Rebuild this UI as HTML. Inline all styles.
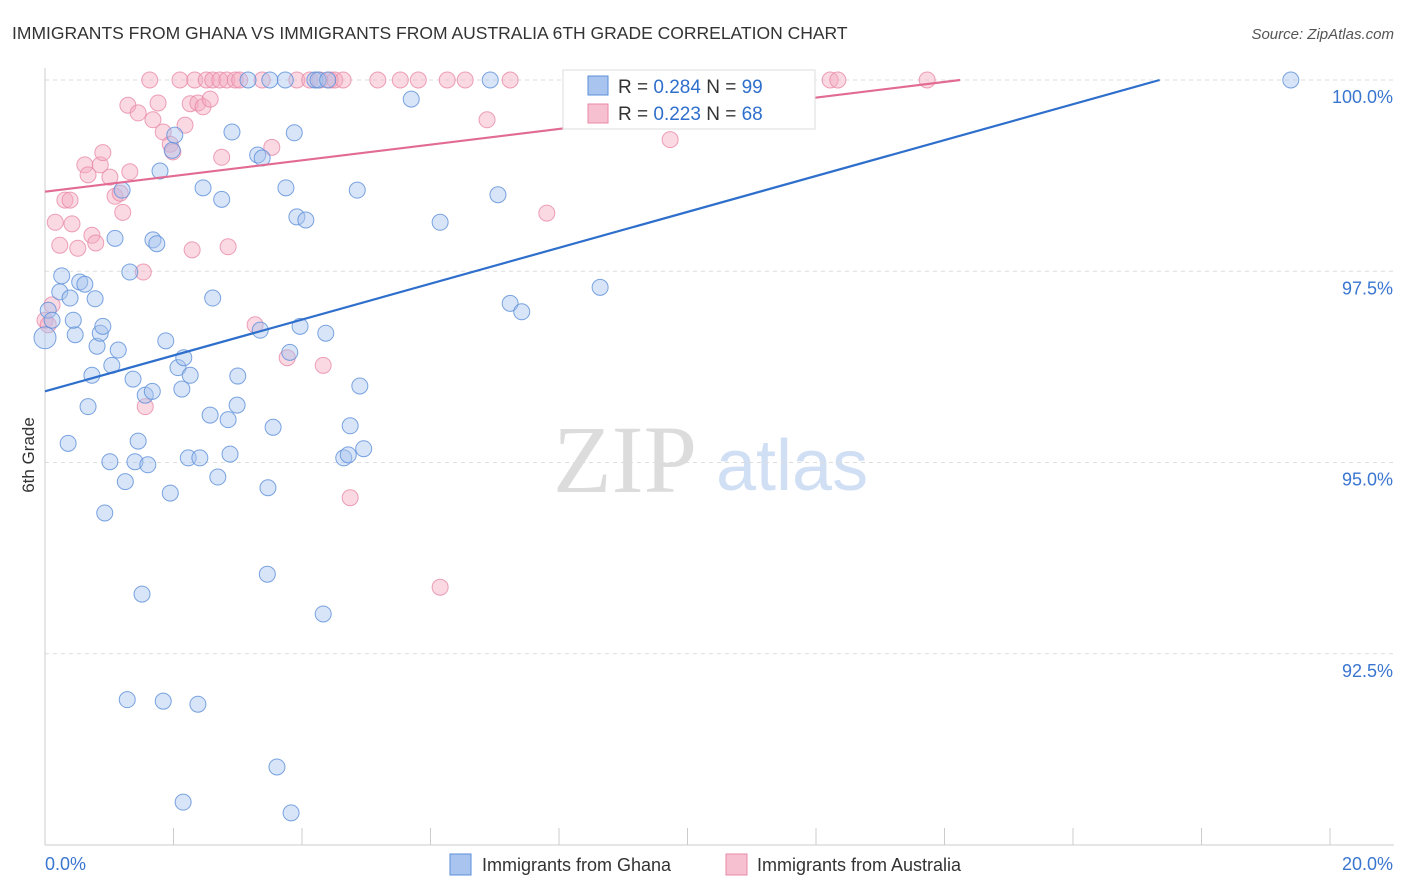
<!DOCTYPE html>
<html><head><meta charset="utf-8"><style>
body{margin:0;background:#fff;font-family:"Liberation Sans",sans-serif;}
svg{display:block}
</style></head><body>
<svg id="chart" width="1406" height="892" viewBox="0 0 1406 892" xmlns="http://www.w3.org/2000/svg" font-family="Liberation Sans, sans-serif">
<text x="12" y="39" font-size="17.5" fill="#333">IMMIGRANTS FROM GHANA VS IMMIGRANTS FROM AUSTRALIA 6TH GRADE CORRELATION CHART</text>
<text x="1394" y="39" font-size="15" fill="#555" font-style="italic" text-anchor="end">Source: ZipAtlas.com</text>
<g>
<text x="553" y="492" font-size="96" fill="#d4d4d4" font-family="Liberation Serif, serif" opacity="0.8">ZIP</text>
<text x="716" y="490" font-size="72" fill="#c6d8f2" opacity="0.8">atlas</text>
</g>
<g id="grid"></g>
<g id="axes"></g>
<g id="pts"></g>
<g id="trends"></g>
<text transform="translate(34,455) rotate(-90)" font-size="17" fill="#333" text-anchor="middle">6th Grade</text>
<g>
<rect x="563" y="70" width="252" height="59" fill="#fff" stroke="#ddd"/>
<rect x="588" y="76" width="20" height="19" fill="#a9c4ee" stroke="#5b8fd9"/>
<text x="618" y="93" font-size="19" fill="#333">R = <tspan fill="#2f6fcc">0.284</tspan>   N = <tspan fill="#2f6fcc">99</tspan></text>
<rect x="588" y="104" width="20" height="19" fill="#f7c0d0" stroke="#e88aa7"/>
<text x="618" y="120" font-size="19" fill="#333">R = <tspan fill="#2f6fcc">0.223</tspan>   N = <tspan fill="#2f6fcc">68</tspan></text>
</g>
<g>
<rect x="450" y="854" width="21" height="21" fill="#a9c4ee" stroke="#5b8fd9"/>
<text x="482" y="871" font-size="18" fill="#333">Immigrants from Ghana</text>
<rect x="726" y="854" width="21" height="21" fill="#f7c0d0" stroke="#e88aa7"/>
<text x="757" y="871" font-size="18" fill="#333">Immigrants from Australia</text>
</g>
</svg>
<script>
const ghanaX=[0.00,0.05,0.11,0.23,0.26,0.39,0.36,0.47,0.44,0.54,0.62,0.67,0.73,0.78,0.81,0.86,0.90,0.93,1.01,1.04,1.09,1.14,1.20,1.25,1.28,1.32,1.37,1.45,1.40,1.51,1.56,1.60,1.67,1.68,1.74,1.79,1.84,1.88,1.95,1.98,2.02,2.07,2.13,2.16,2.15,2.23,2.26,2.38,2.41,2.46,2.57,2.61,2.69,2.75,2.85,2.88,2.91,2.99,3.00,3.16,3.31,3.38,3.46,3.47,3.50,3.55,3.61,3.74,3.75,3.81,3.83,3.88,3.92,3.97,4.06,4.20,4.25,4.33,4.37,4.40,4.65,4.72,4.75,4.86,4.90,4.96,5.70,6.15,6.93,7.05,7.24,7.42,8.23,8.64,9.18,19.39,3.35];
const ghanaY=[96.63,96.99,96.86,97.23,97.44,97.15,95.25,96.67,96.86,97.36,97.33,95.73,96.14,97.14,96.52,96.69,96.78,94.34,95.01,96.27,97.93,96.47,98.56,94.75,91.90,97.49,96.09,95.28,95.01,93.28,95.88,94.97,95.93,97.91,97.86,98.81,91.88,96.59,94.60,99.08,99.28,96.24,95.96,96.37,90.56,95.06,96.14,91.84,95.06,98.59,95.62,97.15,94.81,98.44,95.56,95.11,99.32,95.75,96.13,100,99.02,98.98,93.54,94.67,100,95.46,91.02,100,98.59,96.44,90.42,99.31,98.21,96.78,98.17,100,100,93.02,96.69,100,95.06,95.10,95.48,98.56,96.00,95.18,99.75,98.14,100,98.50,97.08,96.97,100,97.29,100,100,96.73];
const ausX=[0.00,0.05,0.11,0.16,0.23,0.31,0.39,0.42,0.51,0.62,0.67,0.73,0.79,0.86,0.90,1.01,1.09,1.17,1.21,1.29,1.32,1.45,1.53,1.56,1.63,1.68,1.76,1.84,1.95,1.99,2.10,2.18,2.26,2.33,2.38,2.46,2.51,2.57,2.61,2.72,2.75,2.83,2.85,2.96,3.03,3.27,3.38,3.53,3.77,3.92,4.12,4.28,4.33,4.44,4.51,4.64,4.75,5.18,5.53,5.81,6.15,6.26,6.54,6.88,7.24,7.81,9.73,12.22,12.34,13.73,2.29];
const ausY=[96.86,96.80,97.06,98.14,97.84,98.43,98.43,98.12,97.80,98.89,98.76,97.97,97.87,98.89,99.05,98.73,98.48,98.52,98.27,99.67,98.80,99.57,97.49,95.73,100,99.48,99.70,99.32,99.16,99.06,100,99.41,99.69,100,99.70,99.65,100,99.75,100,100,98.99,100,97.82,100,100,96.80,100,99.12,96.37,100,100,100,96.27,100,100,100,94.54,100,100,100,93.37,100,100,99.48,100,98.26,99.22,100,100,100,97.78];
const ghanaTrend=[95.93,0.2346];
const ausTrend=[98.54,0.1025];
const yTicks=[92.5,95.0,97.5,100.0];
const xTicks=[0,2,4,6,8,10,12,14,16,18,20];

const NS="http://www.w3.org/2000/svg";
const X0=45,X1=1330,Y0=845,Y1=80;
const sx=v=>X0+(v/20)*(X1-X0);
const sy=v=>Y0-((v-90)/10)*(Y0-Y1);
function mk(tag,attrs,parent){const e=document.createElementNS(NS,tag);for(const k in attrs)e.setAttribute(k,attrs[k]);parent.appendChild(e);return e;}
const grid=document.getElementById('grid'),axes=document.getElementById('axes'),pts=document.getElementById('pts'),tr=document.getElementById('trends');
yTicks.forEach(t=>{
 const l=mk('line',{x1:X0,x2:1394,y1:sy(t),y2:sy(t),stroke:'#ddd','stroke-dasharray':'4,4'},grid);
 
 
 const tx=mk('text',{x:1393,y:sy(t)+23,'font-size':18,fill:'#3a76d0','text-anchor':'end'},axes);
 tx.textContent=t.toFixed(1)+'%';
 
 
});
mk('line',{x1:X0,x2:X0,y1:68,y2:Y0,stroke:'#ccc'},axes);
mk('line',{x1:X0,x2:1394,y1:Y0,y2:Y0,stroke:'#ccc'},axes);
xTicks.forEach(t=>{
 const l=mk('line',{x1:sx(t),x2:sx(t),y1:Y0,y2:Y0-17,stroke:'#ccc'},axes);
 
 
});
[[0,'0.0%','start',45],[20,'20.0%','end',1393]].forEach(d=>{
 const tx=mk('text',{x:d[3],y:870,'font-size':18,fill:'#3a76d0','text-anchor':d[2]},axes);
 tx.textContent=d[1];
 
 
});
function drawSeries(xs,ys,fill,stroke,name){
 xs.forEach((x,i)=>{
  const c=mk('circle',{cx:sx(x),cy:sy(ys[i]),r:(i===0&&name==='ghana')?11:8,fill:fill,'fill-opacity':0.45,stroke:stroke,'stroke-opacity':0.8,'stroke-width':1},pts);
  
  
 });
}
drawSeries(ausX,ausY,'#f5aac0','#e88aa7','australia');
drawSeries(ghanaX,ghanaY,'#a9c4ee','#5b8fd9','ghana');
function trend(p,color,name){
 const xe=Math.min(20,(100-p[0])/p[1]);
 const l=mk('line',{x1:sx(0),y1:sy(p[0]),x2:sx(xe),y2:sy(p[0]+p[1]*xe),stroke:color,'stroke-width':2.2},tr);
 
 
}
trend(ghanaTrend,'#2f6fcc','ghana');
trend(ausTrend,'#e26b93','australia');
</script>
</body></html>
